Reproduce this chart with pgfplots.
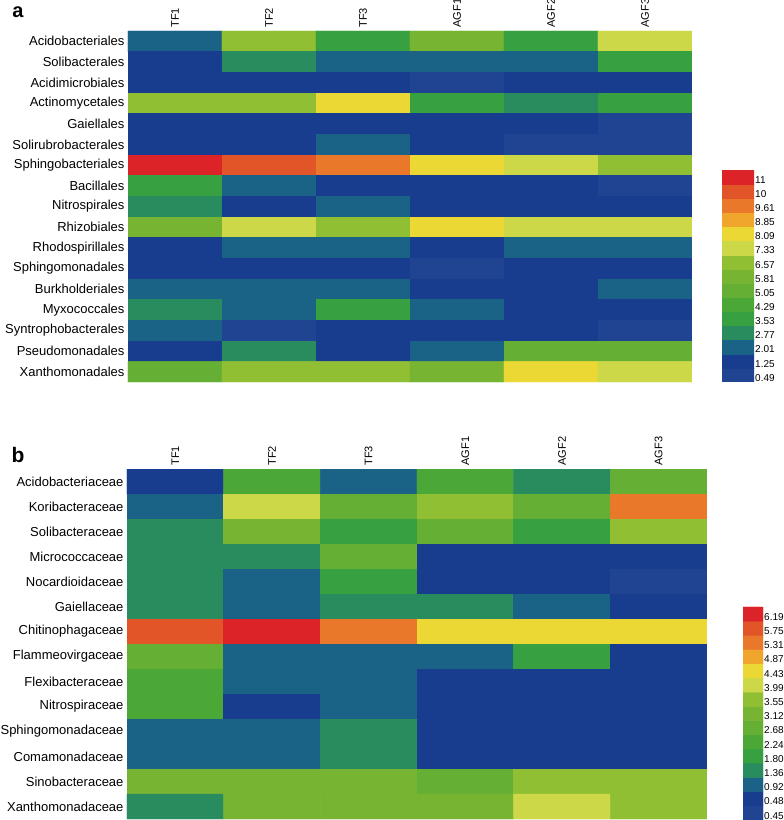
\documentclass[border=0pt]{standalone}
\usepackage{pgfplots}
\pgfplotsset{compat=1.18}
\usepackage{fontspec}
\setmainfont{Liberation Sans}
\begin{document}
\begin{tikzpicture}
\useasboundingbox (0pt,0pt) rectangle (784pt,820pt);
\pgfplotsset{
  colormap={heat}{rgb255(0)=(32,68,146) rgb255(1)=(24,61,142) rgb255(2)=(27,98,135)
    rgb255(3)=(40,140,95) rgb255(4)=(55,160,65) rgb255(5)=(75,168,55)
    rgb255(6)=(100,175,52) rgb255(7)=(118,180,50) rgb255(8)=(145,191,52)
    rgb255(9)=(205,216,72) rgb255(10)=(236,216,52) rgb255(11)=(240,166,45)
    rgb255(12)=(234,120,42) rgb255(13)=(225,85,40) rgb255(14)=(220,35,40)
    rgb255(15)=(220,35,40)},
  heat/.style={scale only axis, anchor=south west, colormap name=heat,
    colormap access=piecewise constant,
    axis line style={draw=none}, tick style={draw=none}, major tick length=0pt},
}
% ---------------- panel a ----------------
\begin{axis}[heat, at={(128pt,438pt)}, width=564pt, height=351pt,
  xmin=-0.5, xmax=5.5, ymin=-0.5, ymax=16.5, y dir=reverse,
  point meta min=0.49, point meta max=11.89,
  xtick={0,...,5}, xticklabels={TF1,TF2,TF3,AGF1,AGF2,AGF3},
  xticklabel pos=upper,
  xticklabel style={rotate=90, anchor=west, font=\fontsize{11}{12}\selectfont},
  ytick={0,...,16},
  yticklabels={Acidobacteriales,Solibacterales,Acidimicrobiales,Actinomycetales,Gaiellales,Solirubrobacterales,Sphingobacteriales,Bacillales,Nitrospirales,Rhizobiales,Rhodospirillales,Sphingomonadales,Burkholderiales,Myxococcales,Syntrophobacterales,Pseudomonadales,Xanthomonadales},
  yticklabel style={font=\fontsize{13}{15}\selectfont}]
\addplot[matrix plot*, mesh/cols=6, point meta=explicit] table[meta=v] {
x y v
0 0 2.39
1 0 6.95
2 0 3.91
3 0 6.19
4 0 3.91
5 0 7.71
0 1 1.63
1 1 3.15
2 1 2.39
3 1 2.39
4 1 2.39
5 1 3.91
0 2 1.63
1 2 1.63
2 2 1.63
3 2 0.87
4 2 1.63
5 2 1.63
0 3 6.95
1 3 6.95
2 3 8.47
3 3 3.91
4 3 3.15
5 3 3.91
0 4 1.63
1 4 1.63
2 4 1.63
3 4 1.63
4 4 1.63
5 4 0.87
0 5 1.63
1 5 1.63
2 5 2.39
3 5 1.63
4 5 0.87
5 5 0.87
0 6 11.51
1 6 10.75
2 6 9.99
3 6 8.47
4 6 7.71
5 6 6.95
0 7 3.91
1 7 2.39
2 7 1.63
3 7 1.63
4 7 1.63
5 7 0.87
0 8 3.15
1 8 1.63
2 8 2.39
3 8 1.63
4 8 1.63
5 8 1.63
0 9 6.19
1 9 7.71
2 9 6.95
3 9 8.47
4 9 7.71
5 9 7.71
0 10 1.63
1 10 2.39
2 10 2.39
3 10 1.63
4 10 2.39
5 10 2.39
0 11 1.63
1 11 1.63
2 11 1.63
3 11 0.87
4 11 1.63
5 11 1.63
0 12 2.39
1 12 2.39
2 12 2.39
3 12 1.63
4 12 1.63
5 12 2.39
0 13 3.15
1 13 2.39
2 13 3.91
3 13 2.39
4 13 1.63
5 13 1.63
0 14 2.39
1 14 0.87
2 14 1.63
3 14 1.63
4 14 1.63
5 14 0.87
0 15 1.63
1 15 3.15
2 15 1.63
3 15 2.39
4 15 5.43
5 15 5.43
0 16 5.43
1 16 6.95
2 16 6.95
3 16 6.19
4 16 8.47
5 16 7.71
};
\end{axis}
% colorbar a
\begin{axis}[heat, at={(722pt,438pt)}, width=32pt, height=212pt,
  xmin=-0.5, xmax=1.5, ymin=-0.5, ymax=14.5, xtick=\empty,
  point meta min=0.49, point meta max=11.89,
  ytick={-0.2,0.8,1.8,2.8,3.8,4.8,5.8,6.8,7.8,8.8,9.8,10.8,11.8,12.8,13.8},
  yticklabels={0.49,1.25,2.01,2.77,3.53,4.29,5.05,5.81,6.57,7.33,8.09,8.85,9.61,10,11},
  yticklabel pos=right,
  yticklabel style={font=\fontsize{10}{11}\selectfont, inner sep=1pt}]
\addplot[matrix plot*, mesh/cols=2, point meta=explicit] table[meta=v] {
x y v
0 0 0.87
1 0 0.87
0 1 1.63
1 1 1.63
0 2 2.39
1 2 2.39
0 3 3.15
1 3 3.15
0 4 3.91
1 4 3.91
0 5 4.67
1 5 4.67
0 6 5.43
1 6 5.43
0 7 6.19
1 7 6.19
0 8 6.95
1 8 6.95
0 9 7.71
1 9 7.71
0 10 8.47
1 10 8.47
0 11 9.23
1 11 9.23
0 12 9.99
1 12 9.99
0 13 10.75
1 13 10.75
0 14 11.51
1 14 11.51
};
\end{axis}
% ---------------- panel b ----------------
\begin{axis}[heat, at={(127pt,1pt)}, width=580pt, height=350pt,
  xmin=-0.5, xmax=5.5, ymin=-0.5, ymax=13.5, y dir=reverse,
  point meta min=0.04, point meta max=6.63,
  xtick={0,...,5}, xticklabels={TF1,TF2,TF3,AGF1,AGF2,AGF3},
  xticklabel pos=upper,
  xticklabel style={rotate=90, anchor=west, font=\fontsize{11}{12}\selectfont},
  ytick={0,...,13},
  yticklabels={Acidobacteriaceae,Koribacteraceae,Solibacteraceae,Micrococcaceae,Nocardioidaceae,Gaiellaceae,Chitinophagaceae,Flammeovirgaceae,Flexibacteraceae,Nitrospiraceae,Sphingomonadaceae,Comamonadaceae,Sinobacteraceae,Xanthomonadaceae},
  yticklabel style={font=\fontsize{13}{15}\selectfont}]
\addplot[matrix plot*, mesh/cols=6, point meta=explicit] table[meta=v] {
x y v
0 0 0.70
1 0 2.46
2 0 1.14
3 0 2.46
4 0 1.58
5 0 2.90
0 1 1.14
1 1 4.22
2 1 2.90
3 1 3.78
4 1 2.90
5 1 5.54
0 2 1.58
1 2 3.34
2 2 2.02
3 2 2.90
4 2 2.02
5 2 3.78
0 3 1.58
1 3 1.58
2 3 2.90
3 3 0.70
4 3 0.70
5 3 0.70
0 4 1.58
1 4 1.14
2 4 2.02
3 4 0.70
4 4 0.70
5 4 0.26
0 5 1.58
1 5 1.14
2 5 1.58
3 5 1.58
4 5 1.14
5 5 0.70
0 6 5.98
1 6 6.42
2 6 5.54
3 6 4.66
4 6 4.66
5 6 4.66
0 7 2.90
1 7 1.14
2 7 1.14
3 7 1.14
4 7 2.02
5 7 0.70
0 8 2.46
1 8 1.14
2 8 1.14
3 8 0.70
4 8 0.70
5 8 0.70
0 9 2.46
1 9 0.70
2 9 1.14
3 9 0.70
4 9 0.70
5 9 0.70
0 10 1.14
1 10 1.14
2 10 1.58
3 10 0.70
4 10 0.70
5 10 0.70
0 11 1.14
1 11 1.14
2 11 1.58
3 11 0.70
4 11 0.70
5 11 0.70
0 12 3.34
1 12 3.34
2 12 3.34
3 12 2.90
4 12 3.78
5 12 3.78
0 13 1.58
1 13 3.34
2 13 3.34
3 13 3.34
4 13 4.22
5 13 3.78
};
\end{axis}
% colorbar b
\begin{axis}[heat, at={(743pt,0pt)}, width=20pt, height=213pt,
  xmin=-0.5, xmax=1.5, ymin=-0.5, ymax=14.5, xtick=\empty,
  point meta min=0.04, point meta max=6.63,
  ytick={-0.2,0.8,1.8,2.8,3.8,4.8,5.8,6.8,7.8,8.8,9.8,10.8,11.8,12.8,13.8},
  yticklabels={0.45,0.48,0.92,1.36,1.80,2.24,2.68,3.12,3.55,3.99,4.43,4.87,5.31,5.75,6.19},
  yticklabel pos=right,
  yticklabel style={font=\fontsize{10}{11}\selectfont, inner sep=1pt}]
\addplot[matrix plot*, mesh/cols=2, point meta=explicit] table[meta=v] {
x y v
0 0 0.26
1 0 0.26
0 1 0.70
1 1 0.70
0 2 1.14
1 2 1.14
0 3 1.58
1 3 1.58
0 4 2.02
1 4 2.02
0 5 2.46
1 5 2.46
0 6 2.90
1 6 2.90
0 7 3.34
1 7 3.34
0 8 3.78
1 8 3.78
0 9 4.22
1 9 4.22
0 10 4.66
1 10 4.66
0 11 5.10
1 11 5.10
0 12 5.54
1 12 5.54
0 13 5.98
1 13 5.98
0 14 6.42
1 14 6.42
};
\end{axis}
\node[font=\bfseries\fontsize{20}{22}\selectfont] at (18pt,808pt) {a};
\node[font=\bfseries\fontsize{21}{23}\selectfont] at (18pt,365pt) {b};
\end{tikzpicture}
\end{document}
